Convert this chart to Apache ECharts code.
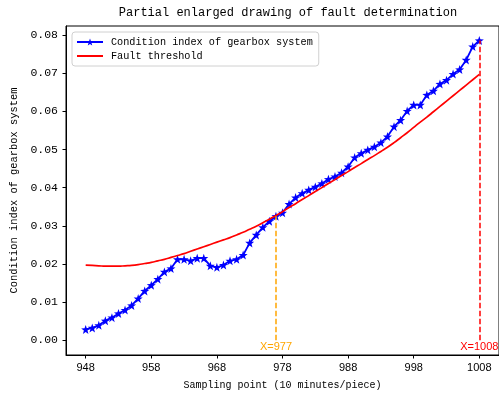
<!DOCTYPE html>
<html>
<head>
<meta charset="utf-8">
<script src="https://cdn.jsdelivr.net/npm/echarts@6/dist/echarts.min.js"></script>
<style>html,body{margin:0;padding:0;background:#fff}#c{width:499px;height:396px}</style>
</head>
<body>
<div id="c"></div>
<script>
const xStart = 948;
const xTicks = [948, 958, 968, 978, 988, 998, 1008];
const yTicks = [0, 0.01, 0.02, 0.03, 0.04, 0.05, 0.06, 0.07, 0.08];
const blueValues = [
  0.0028, 0.0032, 0.0039, 0.0051, 0.0059, 0.0070, 0.0079, 0.0091, 0.0109, 0.0129,
  0.0144, 0.0160, 0.0179, 0.0188, 0.0212, 0.0212, 0.0208, 0.0215, 0.0215, 0.0195,
  0.0191, 0.0197, 0.0208, 0.0212, 0.0223, 0.0255, 0.0276, 0.0296, 0.0312, 0.0325,
  0.0334, 0.0357, 0.0374, 0.0385, 0.0394, 0.0402, 0.0411, 0.0422, 0.0429, 0.0439,
  0.0455, 0.0479, 0.0490, 0.0499, 0.0507, 0.0518, 0.0534, 0.0560, 0.0577, 0.0601,
  0.0617, 0.0617, 0.0643, 0.0654, 0.0672, 0.0682, 0.0698, 0.0710, 0.0735, 0.0770,
  0.0786
];
const redValues = [
  0.0197, 0.0196, 0.0195, 0.0194, 0.0194, 0.0194, 0.0195, 0.0196, 0.0198, 0.0201,
  0.0204, 0.0208, 0.0212, 0.0217, 0.0222, 0.0227, 0.0233, 0.0239, 0.0245, 0.0251,
  0.0257, 0.0263, 0.0269, 0.0276, 0.0283, 0.0291, 0.0299, 0.0308, 0.0317, 0.0327,
  0.0337, 0.0348, 0.0358, 0.0369, 0.0379, 0.0390, 0.0400, 0.0411, 0.0421, 0.0432,
  0.0442, 0.0453, 0.0463, 0.0474, 0.0484, 0.0495, 0.0506, 0.0518, 0.0531, 0.0544,
  0.0558, 0.0572, 0.0585, 0.0599, 0.0613, 0.0627, 0.0641, 0.0655, 0.0669, 0.0683,
  0.0697
];
const markX = [977, 1008];
const markColors = ['#ffa500', '#ff0000'];

const blueData = blueValues.map((v, i) => [xStart + i, v]);
const redData = redValues.map((v, i) => [xStart + i, v]);
const star = 'path://M0,-10L2.35,-3.24L9.51,-3.09L3.8,1.24L5.88,8.09L0,4L-5.88,8.09L-3.8,1.24L-9.51,-3.09L-2.35,-3.24Z';

const markLines = markX.map((x, k) => [
  {coord: [x, 0], lineStyle: {color: markColors[k], type: [5.5, 2.5], width: 1.5},
   label: {show: true, position: 'start', distance: 1, formatter: 'X=' + x, color: markColors[k],
           fontFamily: 'Liberation Sans', fontSize: 11}},
  {coord: [x, blueValues[x - xStart]]}
]);

const chart = echarts.init(document.getElementById('c'), null, {renderer: 'canvas'});
chart.setOption({
  animation: false,
  backgroundColor: '#fff',
  title: {
    text: 'Partial enlarged drawing of fault determination',
    left: 283, top: 2, textAlign: 'center',
    textStyle: {fontFamily: 'Liberation Mono', fontSize: 12, fontWeight: 'normal', color: '#000'}
  },
  legend: {
    orient: 'vertical', left: 72, top: 32,
    padding: [5, 6, 5, 4], itemGap: 4, itemWidth: 26, itemHeight: 9,
    borderColor: '#d0d0d0', borderWidth: 1, borderRadius: 3,
    backgroundColor: 'rgba(255,255,255,0.8)',
    data: [
      {name: 'Condition index of gearbox system'},
      {name: 'Fault threshold', icon: 'path://M0,0L26,0L26,2L0,2Z'}
    ],
    textStyle: {fontFamily: 'Liberation Mono', fontSize: 10.2, color: '#000', padding: [0, 0, 0, 3]}
  },
  grid: {left: 66, top: 26, right: -2, bottom: 41, show: true, borderColor: '#000', borderWidth: 1, containLabel: false},
  xAxis: {
    type: 'value', min: 945, max: 1011,
    name: 'Sampling point (10 minutes/piece)', nameLocation: 'middle', nameGap: 25,
    nameTextStyle: {fontFamily: 'Liberation Mono', fontSize: 10, color: '#000'},
    axisLine: {show: true, onZero: false, lineStyle: {color: '#000', width: 1}},
    axisTick: {show: true, length: 3.5, customValues: xTicks, lineStyle: {color: '#000'}},
    axisLabel: {customValues: xTicks, margin: 7, fontFamily: 'Liberation Sans', fontSize: 11, color: '#000',
                formatter: v => String(v)},
    splitLine: {show: false}
  },
  yAxis: {
    type: 'value', min: -0.0039, max: 0.0824,
    name: 'Condition index of gearbox system', nameLocation: 'middle', nameGap: 44,
    nameTextStyle: {fontFamily: 'Liberation Mono', fontSize: 10.4, color: '#000'},
    axisLine: {show: true, onZero: false, lineStyle: {color: '#000', width: 1}},
    axisTick: {show: true, length: 3.5, customValues: yTicks, lineStyle: {color: '#000'}},
    axisLabel: {customValues: yTicks, margin: 8, fontFamily: 'Liberation Mono', fontSize: 11.5, color: '#000',
                formatter: v => v.toFixed(2)},
    splitLine: {show: false}
  },
  series: [
    {
      name: 'Condition index of gearbox system', type: 'line', data: blueData,
      symbol: star, symbolSize: 9, showAllSymbol: true,
      itemStyle: {color: '#0000ff'}, lineStyle: {color: '#0000ff', width: 1.8}, z: 2,
      markLine: {silent: true, symbol: 'none', animation: false, data: markLines}
    },
    {
      name: 'Fault threshold', type: 'line', data: redData, smooth: true,
      symbol: 'none', itemStyle: {color: '#ff0000'}, lineStyle: {color: '#ff0000', width: 1.7}, z: 3
    }
  ]
});
</script>
</body>
</html>
